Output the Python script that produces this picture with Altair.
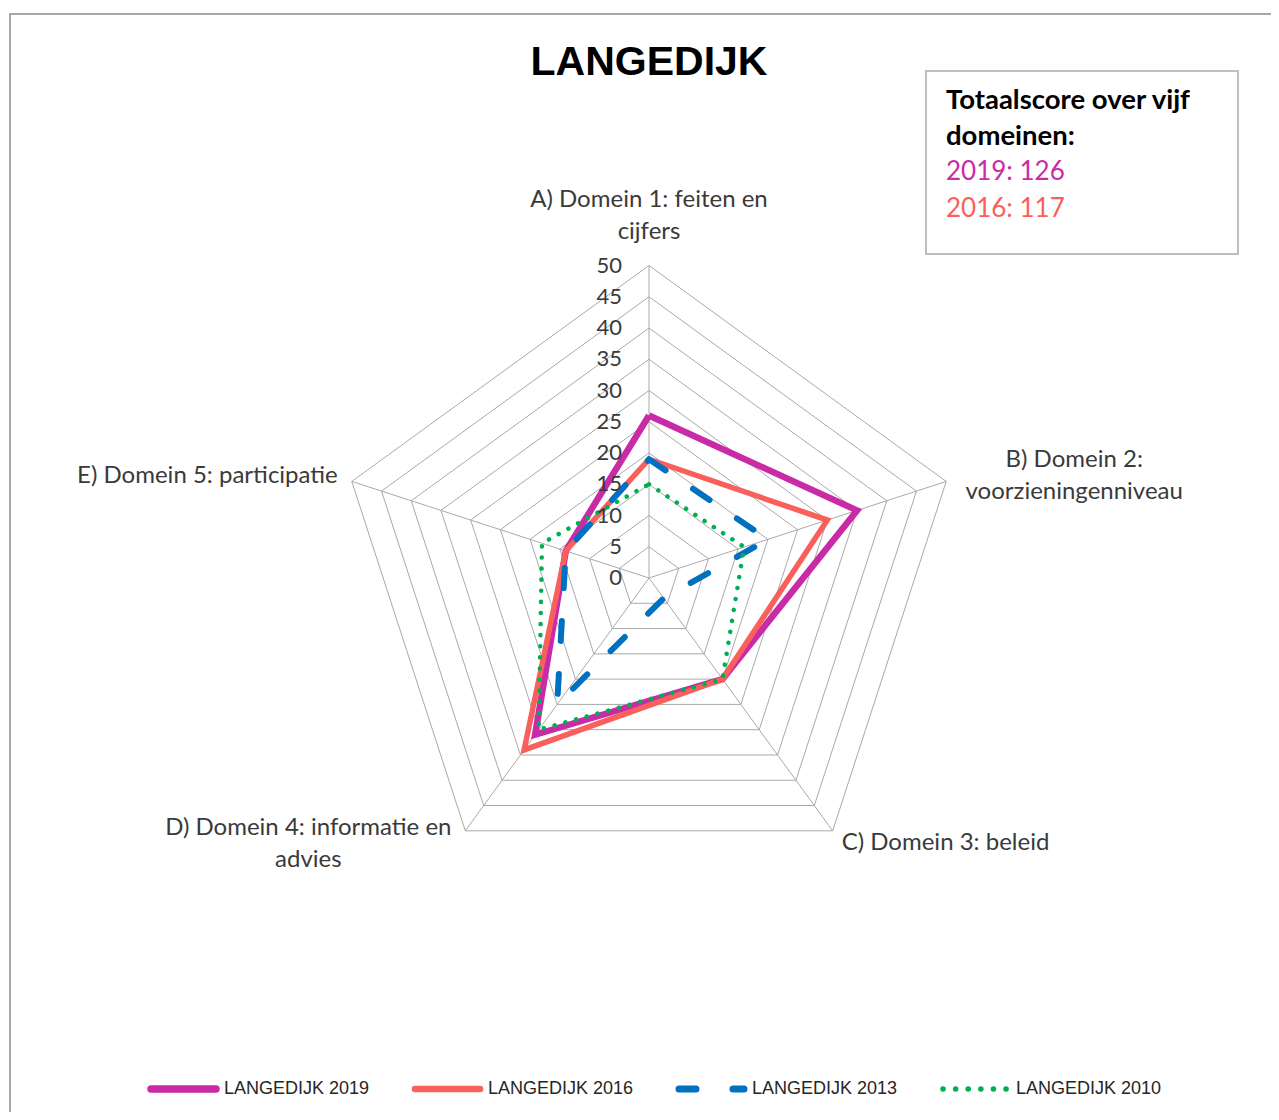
import altair as alt
import pandas as pd

# ---------------- data ----------------
categories = [
    "A) Domein 1: feiten en cijfers",
    "B) Domein 2: voorzieningenniveau",
    "C) Domein 3: beleid",
    "D) Domein 4: informatie en advies",
    "E) Domein 5: participatie",
]
category_lines = [
    "A) Domein 1: feiten en\ncijfers",
    "B) Domein 2:\nvoorzieningenniveau",
    "C) Domein 3: beleid",
    "D) Domein 4: informatie en\nadvies",
    "E) Domein 5: participatie",
]
series_names = ["LANGEDIJK 2019", "LANGEDIJK 2016", "LANGEDIJK 2013", "LANGEDIJK 2010"]
v2019 = [26, 35, 20, 31, 14]
v2016 = [19, 30, 20, 34, 14]
v2013 = [19, 20, 4, 25, 14]
v2010 = [15, 16, 20, 30, 18]
series_values = [v2019, v2016, v2013, v2010]
tick_values = [0, 5, 10, 15, 20, 25, 30, 35, 40, 45, 50]
grid_levels = [5, 10, 15, 20, 25, 30, 35, 40, 45, 50]
chart_title = "LANGEDIJK"
box_title = "Totaalscore over vijf\ndomeinen:"

# ---------------- styles / layout ----------------
series_colors = ["#C92BA7", "#FA605B", "#0070C0", "#00B050"]
series_width = [6.5, 5.5, 6, 4.5]
series_dash = [None, None, [20, 33], [0.1, 11]]
legend_dash = [None, None, [17, 37], [0.1, 12.5]]
text_color = "#3A3A3A"
grid_color = "#A9A9A9"
FONT = "Lato"

W, H = 1263, 1104
CX, CY = 641, 570       # radar centre in plot pixels
PX = 6.25               # pixels per score unit
xs = alt.Scale(domain=[-CX / PX, (W - CX) / PX], nice=False, zero=False)
ys = alt.Scale(domain=[-(H - CY) / PX, CY / PX], nice=False, zero=False)
N = len(categories)
ANG = f"datum.k * 2 * PI / {N}"


def polar(chart, r="datum.value"):
    return chart.transform_calculate(
        ang=ANG
    ).transform_calculate(
        x=f"{r} * sin(datum.ang)", y=f"{r} * cos(datum.ang)"
    )


X = alt.X("x:Q", scale=xs, axis=None)
Y = alt.Y("y:Q", scale=ys, axis=None)

layers = []

# frame
frame = alt.Chart(pd.DataFrame({"a": [0]})).mark_rect(
    fill="white", stroke="#8C8C8C", strokeWidth=1.5
).encode(x=alt.value(2), x2=alt.value(W + 20), y=alt.value(6), y2=alt.value(H + 20))
layers.append(frame)

# spokes
spoke_df = pd.DataFrame({"k": list(range(N)), "value": [max(grid_levels)] * N})
spokes = polar(alt.Chart(spoke_df)).transform_calculate(x0="0", y0="0").mark_rule(
    color=grid_color, strokeWidth=1
).encode(x=alt.X("x0:Q", scale=xs, axis=None), y=alt.Y("y0:Q", scale=ys, axis=None),
         x2="x:Q", y2="y:Q")
layers.append(spokes)

# grid polygons
grid_rows = [{"level": g, "k": k, "value": g} for g in grid_levels for k in range(N + 1)]
grid = polar(alt.Chart(pd.DataFrame(grid_rows))).mark_line(
    color=grid_color, strokeWidth=1
).encode(x=X, y=Y, detail="level:N", order="k:Q")
layers.append(grid)

# series
for name, vals, col, sw, dash in zip(series_names, series_values, series_colors, series_width, series_dash):
    rows = [{"series": name, "k": k, "value": vals[k % N]} for k in range(N + 1)]
    kw = dict(color=col, strokeWidth=sw, strokeJoin="miter", strokeCap="butt")
    if dash is not None:
        kw.update(strokeDash=dash, strokeCap="round", strokeJoin="round")
    layers.append(
        polar(alt.Chart(pd.DataFrame(rows))).mark_line(**kw).encode(x=X, y=Y, order="k:Q")
    )

# tick labels
tick_df = pd.DataFrame({"k": [0] * len(tick_values), "value": tick_values,
                        "lab": [str(t) for t in tick_values]})
ticks = polar(alt.Chart(tick_df)).mark_text(
    align="right", baseline="middle", dx=-27, dy=0, fontSize=22, font=FONT, color=text_color
).encode(x=X, y=Y, text="lab:N")
layers.append(ticks)

# category labels (dy refers to the first line)
label_layout = [  # (dx, dy, align)
    (0, -66, "center"),
    (128, -21, "center"),
    (9, 12, "left"),
    (-157, -3, "center"),
    (-14, -5, "right"),
]
for k, (lab, (dx, dy, al)) in enumerate(zip(category_lines, label_layout)):
    df = pd.DataFrame({"k": [k], "value": [max(grid_levels)], "lab": [lab]})
    layers.append(
        polar(alt.Chart(df)).mark_text(
            align=al, baseline="middle", dx=dx, dy=dy, lineBreak="\n", lineHeight=32,
            fontSize=24, font=FONT, color=text_color
        ).encode(x=X, y=Y, text="lab:N")
    )

# title
layers.append(
    alt.Chart(pd.DataFrame({"t": [chart_title]})).mark_text(
        align="center", baseline="alphabetic", fontSize=41, fontWeight="bold",
        font="Liberation Sans", color="black"
    ).encode(x=alt.value(CX), y=alt.value(67), text="t:N")
)

# total-score box
layers.append(
    alt.Chart(pd.DataFrame({"a": [0]})).mark_rect(
        fill="white", stroke="#BFBFBF", strokeWidth=2
    ).encode(x=alt.value(918), x2=alt.value(1230), y=alt.value(63), y2=alt.value(246))
)
layers.append(
    alt.Chart(pd.DataFrame({"t": [box_title]})).mark_text(
        align="left", baseline="middle", lineBreak="\n", lineHeight=36,
        fontSize=27.5, fontWeight="bold", font=FONT, color="black"
    ).encode(x=alt.value(938), y=alt.value(93), text="t:N")
)
for i, (name, vals, col) in enumerate(zip(series_names[:2], series_values[:2], series_colors[:2])):
    txt = f"{name.split()[-1]}: {sum(vals)}"
    layers.append(
        alt.Chart(pd.DataFrame({"t": [txt]})).mark_text(
            align="left", baseline="middle", fontSize=26, font=FONT, color=col
        ).encode(x=alt.value(938), y=alt.value(164 + 37 * i), text="t:N")
    )

# legend
for i, (name, col, sw, dash) in enumerate(zip(series_names, series_colors, series_width, legend_dash)):
    x0 = 140 + 264 * i
    kw = dict(color=col, strokeWidth=sw + 1, strokeCap="round")
    if dash is not None:
        kw.update(strokeDash=dash)
    layers.append(
        alt.Chart(pd.DataFrame({"t": [name]})).mark_rule(**kw).encode(
            x=alt.value(x0 + 3), x2=alt.value(x0 + 68), y=alt.value(1081)
        )
    )
    layers.append(
        alt.Chart(pd.DataFrame({"t": [name]})).mark_text(
            align="left", baseline="middle", fontSize=18,
            font="Liberation Sans", color="#262626"
        ).encode(x=alt.value(x0 + 76), y=alt.value(1081), text="t:N")
    )

chart = alt.layer(*layers).properties(
    width=W, height=H, padding=0, autosize=alt.AutoSizeParams(type="none")
).configure_view(stroke=None)

chart.save("out.html", embed_options={"renderer": "svg", "actions": False})
